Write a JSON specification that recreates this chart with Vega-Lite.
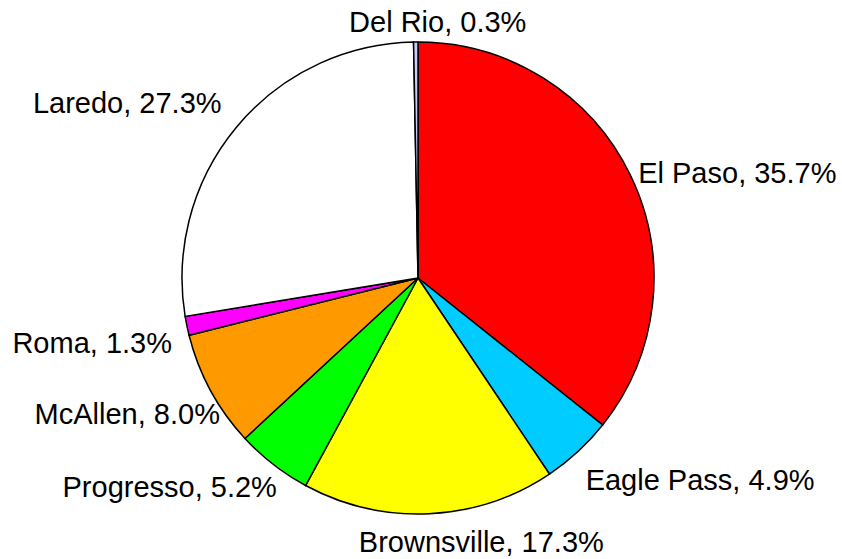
{
  "$schema": "https://vega.github.io/schema/vega-lite/v6.json",
  "width": 836,
  "height": 556,
  "padding": {"left": 0, "top": 0, "right": 6, "bottom": 3},
  "autosize": "none",
  "background": "white",
  "data": {"values": [
    {"city": "El Paso", "pct": 35.7, "ord": 1},
    {"city": "Eagle Pass", "pct": 4.9, "ord": 2},
    {"city": "Brownsville", "pct": 17.3, "ord": 3},
    {"city": "Progresso", "pct": 5.2, "ord": 4},
    {"city": "McAllen", "pct": 8.0, "ord": 5},
    {"city": "Roma", "pct": 1.3, "ord": 6},
    {"city": "Laredo", "pct": 27.3, "ord": 7},
    {"city": "Del Rio", "pct": 0.3, "ord": 8}
  ]},
  "encoding": {
    "theta": {"field": "pct", "type": "quantitative", "stack": true},
    "order": {"field": "ord", "type": "quantitative"}
  },
  "layer": [
    {
      "mark": {"type": "arc", "outerRadius": 236, "stroke": "black", "strokeWidth": 1.5},
      "encoding": {
        "color": {
          "field": "city", "type": "nominal", "legend": null,
          "scale": {
            "domain": ["El Paso", "Eagle Pass", "Brownsville", "Progresso", "McAllen", "Roma", "Laredo", "Del Rio"],
            "range": ["#FF0000", "#00CCFF", "#FFFF00", "#00FF00", "#FF9900", "#FF00FF", "#FFFFFF", "#CCCCFF"]
          }
        }
      }
    },
    {
      "mark": {
        "type": "text", "radius": 240, "font": "Liberation Sans", "fontSize": 29, "color": "black",
        "align": {"expr": "datum.city == 'El Paso' || datum.city == 'Eagle Pass' ? 'left' : (datum.city == 'Brownsville' || datum.city == 'Del Rio' ? 'center' : 'right')"},
        "baseline": {"expr": "datum.city == 'El Paso' ? 'middle' : (datum.city == 'Laredo' || datum.city == 'Del Rio' ? 'bottom' : 'top')"},
        "dx": {"expr": "datum.city == 'Brownsville' ? 52 : (datum.city == 'Del Rio' ? 22 : (datum.city == 'El Paso' ? 4 : (datum.city == 'Laredo' ? -12 : (datum.city == 'Roma' ? -11 : (datum.city == 'McAllen' ? 13 : (datum.city == 'Progresso' ? 6 : (datum.city == 'Eagle Pass' ? 5 : 0)))))))"},
        "dy": {"expr": "datum.city == 'Eagle Pass' ? 13 : (datum.city == 'Roma' ? 3 : (datum.city == 'McAllen' ? 9 : (datum.city == 'Laredo' ? -5 : (datum.city == 'Progresso' ? 6 : (datum.city == 'Brownsville' ? 11 : 0)))))"}
      },
      "encoding": {
        "text": {"field": "label", "type": "nominal"}
      },
      "transform": [
        {"calculate": "datum.city + ', ' + format(datum.pct, '.1f') + '%'", "as": "label"}
      ]
    }
  ],
  "config": {"view": {"stroke": null}}
}
